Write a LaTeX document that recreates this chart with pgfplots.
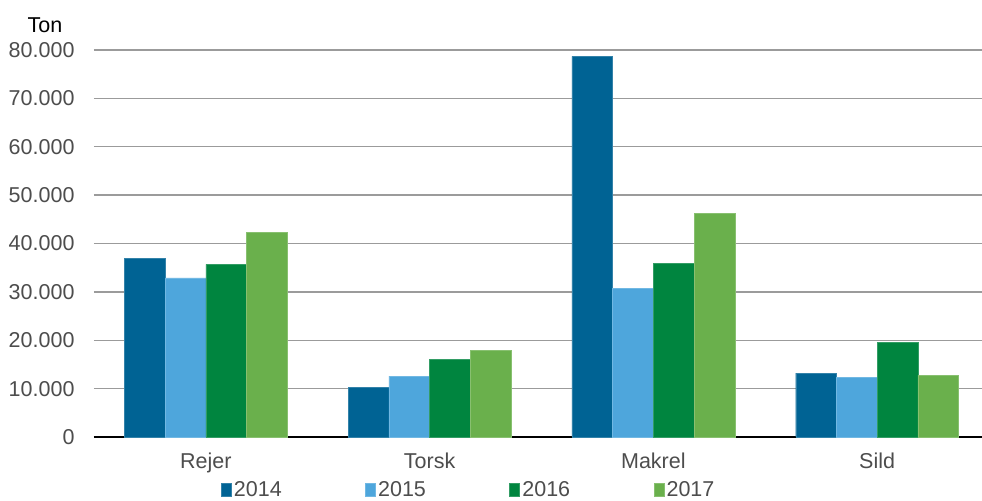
\documentclass[border=0pt]{standalone}
\usepackage{fontspec}
\setmainfont{Liberation Sans}
\usepackage{pgfplots}
\pgfplotsset{compat=1.18}
\definecolor{c14}{RGB}{0,99,148}
\definecolor{c15}{RGB}{78,166,220}
\definecolor{c16}{RGB}{0,133,63}
\definecolor{c17}{RGB}{106,176,76}
\definecolor{tickgray}{RGB}{77,77,77}
\definecolor{gridgray}{RGB}{155,155,155}
\begin{document}
\begin{tikzpicture}[font=\fontsize{21.5bp}{25bp}\selectfont]
\useasboundingbox (-94bp,-64bp) rectangle (888bp,437bp);
\begin{axis}[
  scale only axis,
  width=895bp, height=387bp,
  at={(0,0)}, anchor=south west,
  ybar=0pt, bar width=40.7bp,
  xmin=-0.5, xmax=3.5,
  ymin=0, ymax=80000,
  ytick={0,10000,...,80000},
  xtick={0,1,2,3},
  xticklabels={Rejer,Torsk,Makrel,Sild},
  axis x line*=bottom,
  axis y line*=left,
  y axis line style={draw=none},
  x axis line style={black, line width=2pt, -},
  ymajorgrids,
  grid style={gridgray, line width=1.4pt},
  major tick length=0pt,
  tick style={draw=none},
  scaled y ticks=false,
  ticklabel style={text=tickgray, font=\fontsize{21.5bp}{25bp}\selectfont},
  yticklabel style={xshift=-16bp},
  xticklabel style={yshift=-12bp},
  yticklabel={\pgfmathprintnumber[fixed,precision=0,1000 sep={.},assume math mode=true]{\tick}},
  legend columns=4,
  legend style={at={(127bp,-53bp)}, anchor=west, draw=none, fill=none,
    font=\fontsize{21.5bp}{25bp}\selectfont, text=tickgray,
    /tikz/every even column/.append style={column sep=81bp},
    inner sep=0pt, outer sep=0pt},
  legend image code/.code={\fill[#1] (0bp,-6.5bp) rectangle (10bp,6.5bp);},
  every axis legend/.append style={nodes={inner xsep=2.5bp}},
  clip=false,
]
\addplot[fill=c14, draw=c14!80!white] coordinates {(0,37000) (1,10300) (2,78700) (3,13200)};
\addplot[fill=c15, draw=c15!80!white] coordinates {(0,32900) (1,12600) (2,30700) (3,12400)};
\addplot[fill=c16, draw=c16!80!white] coordinates {(0,35700) (1,16100) (2,35900) (3,19500)};
\addplot[fill=c17, draw=c17!80!white] coordinates {(0,42300) (1,17900) (2,46300) (3,12800)};
\legend{2014,2015,2016,2017}
\end{axis}
\node[black] at (-49bp,412bp) {Ton};
\end{tikzpicture}
\end{document}
